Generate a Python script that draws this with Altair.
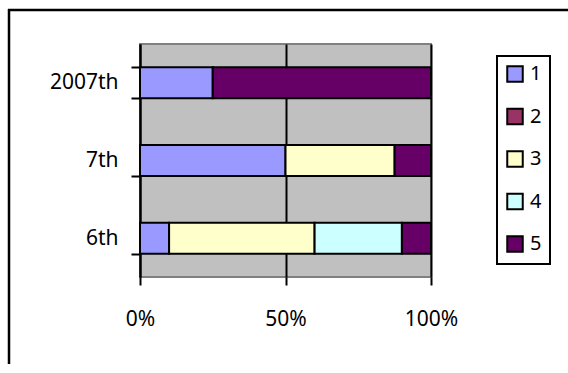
import altair as alt
import pandas as pd

categories = ["6th", "7th", "2007th"]
series_names = ["1", "2", "3", "4", "5"]
s1 = [10, 50, 25]
s2 = [0, 0, 0]
s3 = [50, 37.5, 0]
s4 = [30, 0, 0]
s5 = [10, 12.5, 75]
colors = ["#9999FF", "#993366", "#FFFFCC", "#CCFFFF", "#660066"]
x_ticks = [0, 0.5, 1]

rows = []
for si, (name, vals) in enumerate(zip(series_names, [s1, s2, s3, s4, s5])):
    for c, v in zip(categories, vals):
        if v > 0:
            rows.append({"cat": c, "series": name, "value": v, "order": si})
df = pd.DataFrame(rows)

FONT = "Noto Sans"
FS = 21

one = pd.DataFrame({"a": [0]})
frame_top = alt.Chart(one).mark_rule(stroke="black", strokeWidth=2.5).encode(
    x=alt.value(-132), x2=alt.value(428), y=alt.value(-34)
)
frame_left = alt.Chart(one).mark_rule(stroke="black", strokeWidth=2.5).encode(
    x=alt.value(-131), y=alt.value(-35), y2=alt.value(320)
)

bars = alt.Chart(df).mark_bar(stroke="black", strokeWidth=2).encode(
    y=alt.Y("cat:N", sort=["2007th", "7th", "6th"],
            scale=alt.Scale(paddingInner=0.6, paddingOuter=0.3),
            axis=alt.Axis(title=None, domainColor="black", domainWidth=2,
                          tickColor="black", tickWidth=2, tickSize=9,
                          tickBand="extent", labelPadding=13,
                          labelFontSize=FS, labelFont=FONT, labelColor="black",
                          grid=False)),
    x=alt.X("value:Q", stack="normalize",
            scale=alt.Scale(domain=[0, 1], nice=False),
            axis=alt.Axis(title=None, values=x_ticks, format="%", domain=False,
                          tickColor="black", tickWidth=2, tickSize=8,
                          grid=True, gridColor="black", gridWidth=2,
                          labelPadding=23, labelFontSize=FS, labelFont=FONT,
                          labelColor="black", labelFlush=False)),
    color=alt.Color("series:N",
                    scale=alt.Scale(domain=series_names, range=colors),
                    legend=alt.Legend(title=None, orient="none", legendX=357, legendY=12,
                                      symbolType="square", symbolSize=240,
                                      symbolStrokeColor="black", symbolStrokeWidth=2,
                                      symbolOpacity=1,
                                      labelFontSize=20, labelFont=FONT, labelColor="black",
                                      labelOffset=5, rowPadding=18.5, padding=8,
                                      strokeColor="black", fillColor="white")),
    order=alt.Order("order:Q"),
)

chart = alt.layer(frame_top, frame_left, bars).properties(
    width=291, height=233,
    autosize=alt.AutoSizeParams(type="none"),
    padding={"left": 140, "top": 44, "right": 137, "bottom": 87},
    background="white",
).configure_view(
    fill="#C0C0C0", stroke="#808080", strokeWidth=2
).configure_legend(
    strokeWidth=2
)

chart.save("out.html", embed_options={"renderer": "svg", "actions": False})
